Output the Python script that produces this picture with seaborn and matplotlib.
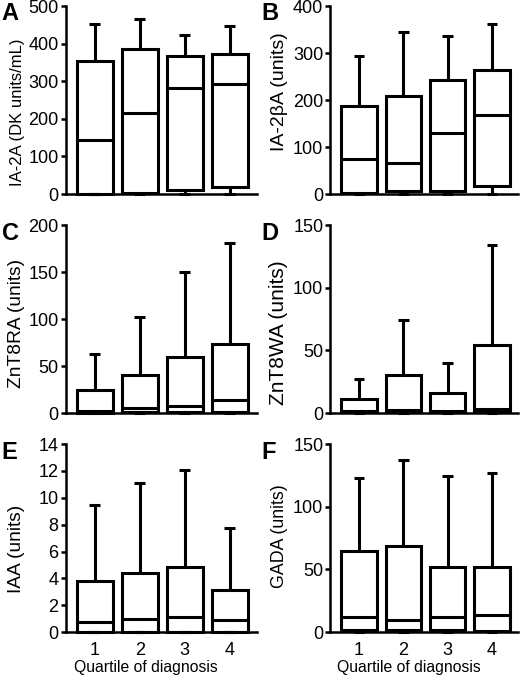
import pandas as pd
import numpy as np
import matplotlib
matplotlib.use("Agg")
import matplotlib.pyplot as plt
import seaborn as sns

quartiles = ["1", "2", "3", "4"]

# five-number summaries (min, q1, median, q3, max)
ia2a_min = [0, 0, 0, 0]
ia2a_q1 = [0, 4, 10, 18]
ia2a_med = [143, 216, 282, 292]
ia2a_q3 = [355, 385, 366, 372]
ia2a_max = [452, 465, 423, 448]

ia2b_min = [0, 0, 0, 0]
ia2b_q1 = [2, 6, 6, 16]
ia2b_med = [75, 67, 130, 168]
ia2b_q3 = [188, 208, 243, 265]
ia2b_max = [294, 345, 337, 361]

znt8r_min = [0, 0, 0, 0]
znt8r_q1 = [0.5, 1.5, 1.5, 1]
znt8r_med = [2, 5, 8, 13.5]
znt8r_q3 = [25, 41, 60, 73]
znt8r_max = [63, 102, 150, 181]

znt8w_min = [0, 0, 0, 0]
znt8w_q1 = [0.5, 0.5, 0.5, 0.5]
znt8w_med = [1.5, 2.7, 1.6, 3]
znt8w_q3 = [11.5, 30, 16, 54]
znt8w_max = [27, 74, 40, 134.5]

iaa_min = [0, 0, 0, 0]
iaa_q1 = [0, 0, 0, 0]
iaa_med = [0.72, 0.95, 1.14, 0.87]
iaa_q3 = [3.8, 4.43, 4.87, 3.1]
iaa_max = [9.45, 11.07, 12.06, 7.78]

gada_min = [0, 0, 0, 0]
gada_q1 = [2, 2, 2, 1]
gada_med = [11.8, 10, 11.8, 13.5]
gada_q3 = [65, 69, 51.7, 52]
gada_max = [122.8, 137, 124.4, 126.8]

panels = [
    ("A", "IA-2A (DK units/mL)", [ia2a_min, ia2a_q1, ia2a_med, ia2a_q3, ia2a_max], 500, 100),
    ("B", "IA-2βA (units)", [ia2b_min, ia2b_q1, ia2b_med, ia2b_q3, ia2b_max], 400, 100),
    ("C", "ZnT8RA (units)", [znt8r_min, znt8r_q1, znt8r_med, znt8r_q3, znt8r_max], 200, 50),
    ("D", "ZnT8WA (units)", [znt8w_min, znt8w_q1, znt8w_med, znt8w_q3, znt8w_max], 150, 50),
    ("E", "IAA (units)", [iaa_min, iaa_q1, iaa_med, iaa_q3, iaa_max], 14, 2),
    ("F", "GADA (units)", [gada_min, gada_q1, gada_med, gada_q3, gada_max], 150, 50),
]
# y-label size and vertical centre, per panel
label_size = [12, 14, 13.8, 15, 13.8, 12.8]
label_y = [0.434, 0.545, 0.479, 0.426, 0.44, 0.51]

sns.set_style("ticks")
plt.rcParams['font.family'] = ['Liberation Sans', 'DejaVu Sans']
plt.rcParams['text.color'] = 'black'
plt.rcParams['axes.labelcolor'] = 'black'
plt.rcParams['axes.edgecolor'] = 'black'
plt.rcParams['xtick.color'] = 'black'
plt.rcParams['ytick.color'] = 'black'
plt.rcParams['axes.linewidth'] = 1.8
plt.rcParams['ytick.major.width'] = 1.8
plt.rcParams['ytick.major.size'] = 3.5
plt.rcParams['ytick.major.pad'] = 1.5
plt.rcParams['ytick.labelsize'] = 13
plt.rcParams['xtick.labelsize'] = 13

fig = plt.figure(figsize=(5.2, 6.76), dpi=100)

lefts = [0.126, 0.635]
widths = [0.368, 0.362]
bottoms = [0.713, 0.389, 0.065]
height = 0.278

for i, (letter, ylabel, stats, ytop, ystep) in enumerate(panels):
    row, col = divmod(i, 2)
    ax = fig.add_axes([lefts[col], bottoms[row], widths[col], height])

    # five points per group -> quartiles of the points are exactly the summary
    rows = []
    for k, q in enumerate(quartiles):
        for s in stats:
            rows.append({"quartile": q, "value": s[k]})
    df = pd.DataFrame(rows)

    sns.boxplot(data=df, x="quartile", y="value", order=quartiles, ax=ax,
                whis=(0, 100), width=0.8, color="white", linecolor="black",
                linewidth=2.2, fill=True, saturation=1)

    for ln in ax.lines:
        ln.set_clip_on(False)
        ln.set_solid_capstyle("butt")
    # shorten caps
    for ln in ax.lines:
        xd = np.asarray(ln.get_xdata(), dtype=float)
        yd = np.asarray(ln.get_ydata(), dtype=float)
        if len(xd) == 2 and yd[0] == yd[1] and abs(xd[1] - xd[0]) < 0.5:
            c = xd.mean()
            ln.set_xdata([c - 0.12, c + 0.12])
    for p in ax.patches:
        p.set_clip_on(False)

    ax.set_ylim(0, ytop)
    ax.set_yticks(np.arange(0, ytop + ystep / 2, ystep))
    ax.set_xlim(-0.65, 3.6)
    ax.set_ylabel(ylabel, fontsize=label_size[i])
    ax.yaxis.set_label_coords(-0.21 if col == 0 else -0.225, label_y[i])
    ax.tick_params(axis="x", length=0, pad=7.5)
    if row < 2:
        ax.set_xticklabels([])
        ax.set_xlabel("")
    else:
        ax.set_xlabel("Quartile of diagnosis", fontsize=11.3)
        ax.xaxis.set_label_coords(0.42, -0.15)
    sns.despine(ax=ax)

    x_letter = 0.003 if col == 0 else 0.503
    y_letter = [0.997, 0.672, 0.347][row]
    fig.text(x_letter, y_letter, letter, fontsize=17, fontweight="bold",
             va="top", ha="left")

fig.savefig("out.png", dpi=100)
